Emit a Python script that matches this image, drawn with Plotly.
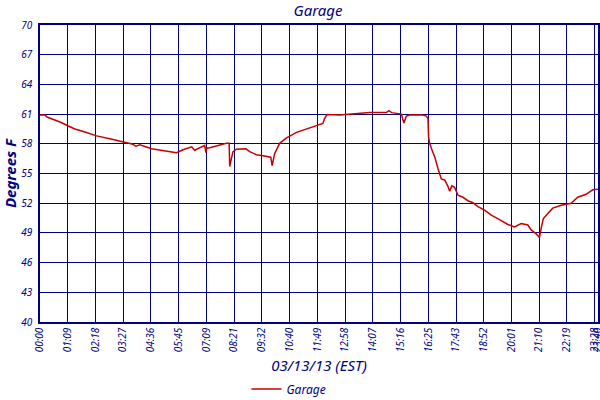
import plotly.graph_objects as go

title = 'Garage'
navy = 'rgb(0,0,128)'
red = 'rgb(200,0,0)'
font_family = 'Noto Sans'

# sample index (100 samples between labelled ticks) and temperature
sample = [0, 18, 25, 54, 72, 102, 126, 162, 204, 252, 304, 335, 346, 360, 402,
          450, 492, 516, 547, 558, 576, 594, 598, 601, 612, 654, 672, 682, 684,
          690, 696, 708, 742, 756, 780, 804, 832, 837, 841, 846, 864, 889, 925,
          972, 1020, 1026, 1035, 1080, 1128, 1189, 1249, 1258, 1268, 1303, 1312,
          1321, 1333, 1381, 1393, 1399, 1401, 1405, 1411, 1423, 1435, 1447, 1459,
          1471, 1477, 1485, 1495, 1507, 1525, 1543, 1561, 1579, 1603, 1627, 1657,
          1687, 1711, 1735, 1759, 1771, 1789, 1801, 1807, 1815, 1831, 1849, 1879,
          1915, 1939, 1969, 1993, 2012]
temp = [60.9, 60.9, 60.7, 60.4, 60.2, 59.8, 59.5, 59.2, 58.8, 58.5, 58.15, 57.95,
        57.75, 57.9, 57.5, 57.3, 57.1, 57.4, 57.7, 57.35, 57.6, 57.85, 57.1, 57.55,
        57.6, 57.95, 58.05, 58.05, 55.7, 56.5, 57.2, 57.45, 57.5, 57.2, 56.9, 56.8,
        56.65, 55.8, 56.5, 57.0, 58.05, 58.6, 59.15, 59.6, 60.05, 60.55, 60.95,
        60.9, 61.0, 61.15, 61.15, 61.35, 61.15, 61.0, 60.1, 60.8, 60.9, 60.9, 60.8,
        60.55, 58.7, 58.05, 57.55, 56.7, 55.5, 54.45, 54.35, 53.7, 53.2, 53.75,
        53.6, 52.8, 52.6, 52.25, 52.05, 51.65, 51.3, 50.8, 50.35, 49.85, 49.6,
        49.95, 49.8, 49.3, 48.9, 48.55, 49.45, 50.45, 50.95, 51.5, 51.8, 52.0,
        52.6, 52.9, 53.35, 53.4]

tick_pos = [0, 100, 200, 300, 400, 500, 600, 700, 800, 900, 1000, 1100, 1200,
            1300, 1400, 1500, 1600, 1700, 1800, 1900, 2000, 2012]
tick_text = ['00:00', '01:09', '02:18', '03:27', '04:36', '05:45', '07:09',
             '08:21', '09:32', '10:40', '11:49', '12:58', '14:07', '15:16',
             '16:25', '17:43', '18:52', '20:01', '21:10', '22:19', '23:28', '23:40']
y_ticks = [40, 43, 46, 49, 52, 55, 58, 61, 64, 67, 70]

fig = go.Figure()
fig.add_trace(go.Scatter(x=sample, y=temp, mode='lines', name='Garage',
                         line=dict(color=red, width=1.5)))

fig.update_layout(
    width=600, height=400,
    autosize=False,
    margin=dict(l=40, r=1.5, t=25, b=78, autoexpand=False),
    plot_bgcolor='white',
    paper_bgcolor='white',
    title=dict(text=title, x=0.53, xanchor='center', y=0.972, yanchor='middle',
               font=dict(family=font_family, size=15, color=navy, style='italic')),
    xaxis=dict(
        range=[0, 2012],
        tickvals=tick_pos, ticktext=tick_text, tickangle=-90,
        showgrid=True, gridcolor=navy, gridwidth=1,
        showline=True, linecolor=navy, linewidth=1.5, mirror=True,
        zeroline=False, ticks='', ticklabeloverflow='allow',
        tickfont=dict(family=font_family, size=10, color=navy, style='italic'),
        title=dict(text='03/13/13 (EST)', standoff=9,
                   font=dict(family=font_family, size=15, color=navy, style='italic')),
    ),
    yaxis=dict(
        range=[40, 70],
        tickvals=y_ticks,
        showgrid=True, gridcolor=navy, gridwidth=1,
        showline=True, linecolor=navy, linewidth=1.5, mirror=True,
        zeroline=False, ticks='outside', ticklen=4, tickcolor='rgba(0,0,0,0)',
        tickfont=dict(family=font_family, size=10, color=navy, style='italic'),
        title=dict(text='Degrees F', standoff=5,
                   font=dict(family=font_family, size=15, color=navy,
                             style='italic', weight='bold')),
    ),
    showlegend=True,
    legend=dict(orientation='h', x=0.37, xanchor='left', y=-0.2256, yanchor='middle',
                font=dict(family=font_family, size=12, color=navy, style='italic'),
                bgcolor='rgba(0,0,0,0)'),
)

# drop the default 8px body margin so the figure sits at the page corner
fig.write_html('out.html', config={'displayModeBar': False},
               post_script="document.body.style.margin='0px';")
